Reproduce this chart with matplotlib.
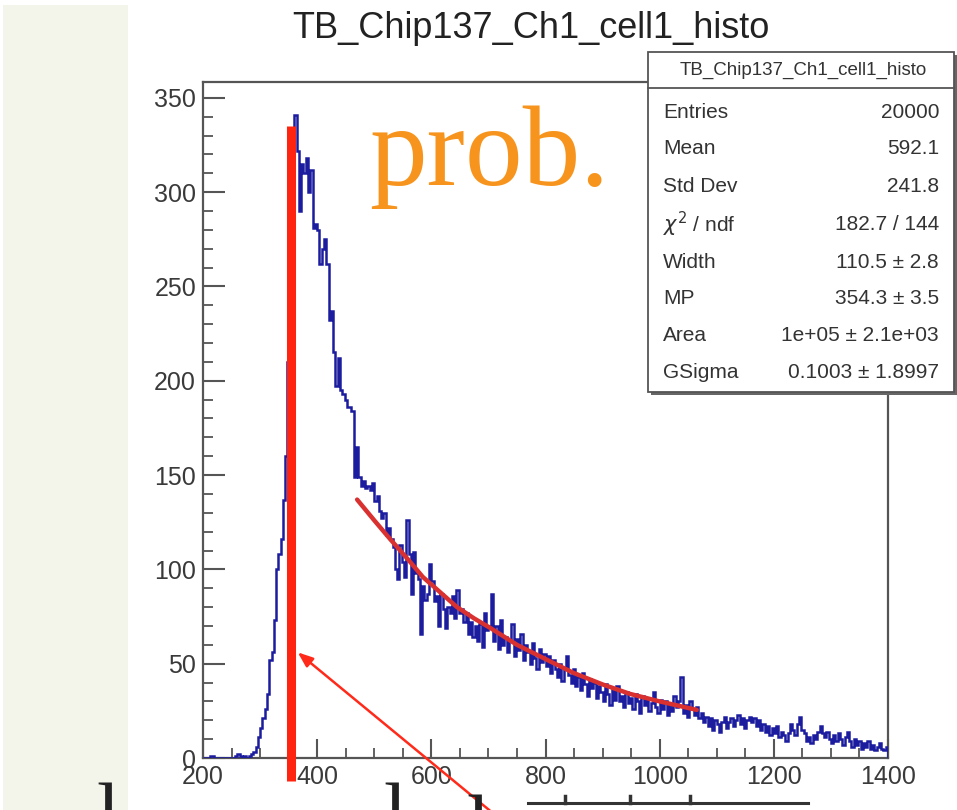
import numpy as np
import matplotlib
matplotlib.use("Agg")
import matplotlib.pyplot as plt
from matplotlib.patches import Rectangle
from matplotlib.lines import Line2D
from matplotlib.ticker import MultipleLocator

# ---------------- data ----------------
title = "TB_Chip137_Ch1_cell1_histo"
bin_start = 200
bin_width = 4
counts = [
    0, 0, 0, 1, 1, 0, 0, 0, 0, 0,            # 200-240
    0, 0, 0, 0, 1, 2, 1, 0, 1, 0,            # 240-280
    1, 2, 3, 6, 11, 16, 21, 26, 34, 52,      # 280-320
    56, 73, 100, 108, 116, 137, 160, 210, 280, 330,   # 320-360
    341, 322, 290, 315, 310, 318, 300, 312, 281, 283, # 360-400
    280, 262, 270, 275, 262, 232, 237, 215, 197, 212, # 400-440
    195, 193, 190, 186, 186, 184, 149, 165, 149, 144, # 440-480
    147, 143, 144, 142, 146, 136, 139, 131, 127, 130, # 480-520
    118, 122, 116, 112, 100, 95, 113, 104, 96, 126,   # 520-560
    108, 87, 109, 98, 95, 66, 91, 84, 87, 103,        # 560-600
    94, 83, 86, 70, 87, 79, 69, 80, 77, 86,           # 600-640
    74, 89, 77, 79, 72, 77, 66, 72, 64, 70,           # 640-680
    62, 71, 59, 77, 68, 70, 87, 62, 70, 58,           # 680-720
    73, 60, 64, 56, 62, 71, 54, 63, 57, 66,           # 720-760
    52, 60, 56, 50, 61, 53, 47, 58, 51, 55,           # 760-800
    49, 54, 45, 52, 47, 43, 50, 41, 47, 54,           # 800-840
    44, 40, 47, 38, 43, 36, 45, 39, 33, 42,           # 840-880
    37, 40, 32, 38, 35, 30, 39, 34, 28, 36,           # 880-920
    31, 38, 30, 33, 27, 35, 29, 32, 26, 34,           # 920-960
    30, 24, 33, 28, 31, 25, 29, 35, 27, 24,           # 960-1000
    31, 26, 30, 23, 28, 25, 33, 27, 30, 43,           # 1000-1040
    24, 28, 22, 30, 26, 23, 27, 21, 24, 19,           # 1040-1080
    22, 17, 21, 15, 20, 18, 14, 19, 22, 16,           # 1080-1120
    19, 21, 17, 20, 23, 18, 21, 16, 20, 22,           # 1120-1160
    19, 21, 17, 20, 15, 18, 14, 17, 12, 16,           # 1160-1200
    13, 17, 11, 14, 12, 9, 13, 18, 15, 12,            # 1200-1240
    18, 22, 15, 13, 9, 11, 8, 12, 10, 14,             # 1240-1280
    17, 13, 11, 14, 10, 8, 12, 9, 13, 10,             # 1280-1320
    7, 11, 14, 9, 6, 10, 7, 9, 5, 8,                  # 1320-1360
    6, 9, 5, 7, 4, 6, 8, 5, 4, 6,                     # 1360-1400
]
fit_x = [470, 500, 528, 560, 585, 615, 645, 675, 703, 750, 803, 850, 900, 948, 1000, 1065]
fit_y = [137, 126, 116, 105, 96, 88, 80, 74, 69, 60, 52, 45, 39, 34, 30, 25.5]

mp_marker_x = 355
mp_marker_y = (-12, 335)
arrow_tip = (366, 56)
arrow_tail = (703, -28)

stats_labels = ["Entries", "Mean", "Std Dev", r"$\chi^{2}$ / ndf", "Width", "MP", "Area", "GSigma"]
stats_values = ["20000", "592.1", "241.8", "182.7 / 144", "110.5 ± 2.8",
                "354.3 ± 3.5", "1e+05 ± 2.1e+03", "0.1003 ± 1.8997"]
annotation_text = "prob."

x_ticks = [200, 400, 600, 800, 1000, 1200, 1400]
y_ticks = [0, 50, 100, 150, 200, 250, 300, 350]

# ---------------- figure ----------------
W, H = 957, 810
fig = plt.figure(figsize=(W / 100, H / 100), dpi=100)
fig.patch.set_facecolor("white")

def fx(px):
    return px / W

def fy(py):
    return 1 - py / H

# pale strip on the left (slide background)
fig.patches.append(Rectangle((fx(3), 0), fx(128) - fx(3), fy(5), transform=fig.transFigure,
                             facecolor="#f3f5ea", edgecolor="none", zorder=0))

sans = ["Liberation Sans", "DejaVu Sans"]
serif = ["Liberation Serif", "DejaVu Serif"]

ax = fig.add_axes([fx(203), fy(758), fx(888) - fx(203), fy(82) - fy(758)])
ax.set_xlim(200, 1400)
ax.set_ylim(0, 358.4)

edges = bin_start + bin_width * np.arange(len(counts) + 1)
ax.stairs(counts, edges, color="#1c1c9e", lw=1.8, zorder=3)
ax.plot(fit_x, fit_y, color="#d93030", lw=3.2, solid_capstyle="round", zorder=4)

for s in ax.spines.values():
    s.set_color("#555555")
    s.set_linewidth(1.6)

ax.set_xticks(x_ticks)
ax.set_yticks(y_ticks)
ax.xaxis.set_minor_locator(MultipleLocator(50))
ax.yaxis.set_minor_locator(MultipleLocator(10))
ax.tick_params(which="major", direction="in", length=14, width=1.5, color="#555555",
               labelsize=18, labelcolor="#3a3a3a", pad=5)
ax.tick_params(axis="y", which="major", length=16)
ax.tick_params(which="minor", direction="in", length=7, width=1.3, color="#555555")
for lab in ax.get_xticklabels() + ax.get_yticklabels():
    lab.set_fontfamily(sans)

# MP marker (thick red line)
ax.plot([mp_marker_x, mp_marker_x], list(mp_marker_y), color="#ff2410", lw=6.5,
        solid_capstyle="butt", clip_on=False, zorder=6)

# arrow
ax.annotate("", xy=arrow_tip, xytext=arrow_tail, xycoords="data", textcoords="data",
            annotation_clip=False,
            arrowprops=dict(arrowstyle="-|>,head_length=0.9,head_width=0.35",
                            color="#ff2a1a", lw=1.8, shrinkA=0, shrinkB=0), zorder=7)

# title
fig.text(fx(531), fy(28), title, ha="center", va="center", fontsize=26,
         family=sans, color="#222222")

# "prob." annotation
fig.text(fx(369), fy(185), annotation_text, ha="left", va="baseline", fontsize=83,
         family=serif, color="#f7941d", zorder=8)

# stats box
bx0, bx1, by0, by1 = 648, 954, 52, 392
fig.patches.append(Rectangle((fx(bx0) + 3 / W, fy(by1) - 3 / H), fx(bx1) - fx(bx0), fy(by0) - fy(by1),
                             transform=fig.transFigure, facecolor="#666666", edgecolor="none",
                             zorder=9))
fig.patches.append(Rectangle((fx(bx0), fy(by1)), fx(bx1) - fx(bx0), fy(by0) - fy(by1),
                             transform=fig.transFigure, facecolor="white", edgecolor="#555555",
                             lw=1.3, zorder=10))
fig.lines.append(Line2D([fx(bx0), fx(bx1)], [fy(88), fy(88)], transform=fig.transFigure,
                        color="#555555", lw=1.3, zorder=11))
fig.text(fx(803), fy(70), title, ha="center", va="center", fontsize=13.5, family=sans,
         color="#333333", zorder=12)
row_y = [112, 149, 186, 224, 262, 298, 336, 373]
for lab, val, ry in zip(stats_labels, stats_values, row_y):
    fig.text(fx(663), fy(ry), lab, ha="left", va="center", fontsize=15, family=sans,
             color="#333333", zorder=12)
    fig.text(fx(939), fy(ry), val, ha="right", va="center", fontsize=15, family=sans,
             color="#333333", zorder=12)

# cut-off slide text at the bottom edge
for gx in [108, 395]:
    fig.text(fx(gx), fy(783), "l", ha="center", va="top", fontsize=60, family=serif,
             color="#222222", zorder=2)
fig.text(fx(478), fy(795), "l", ha="center", va="top", fontsize=60, family=serif,
         color="#222222", zorder=2)
fig.lines.append(Line2D([fx(528), fx(808)], [fy(803), fy(803)], transform=fig.transFigure,
                        color="#333333", lw=2.2, zorder=2))
for gx in [565, 630, 690]:
    fig.lines.append(Line2D([fx(gx), fx(gx)], [fy(803), fy(796)], transform=fig.transFigure,
                            color="#333333", lw=2.5, zorder=2))

fig.savefig("out.png", dpi=100)
